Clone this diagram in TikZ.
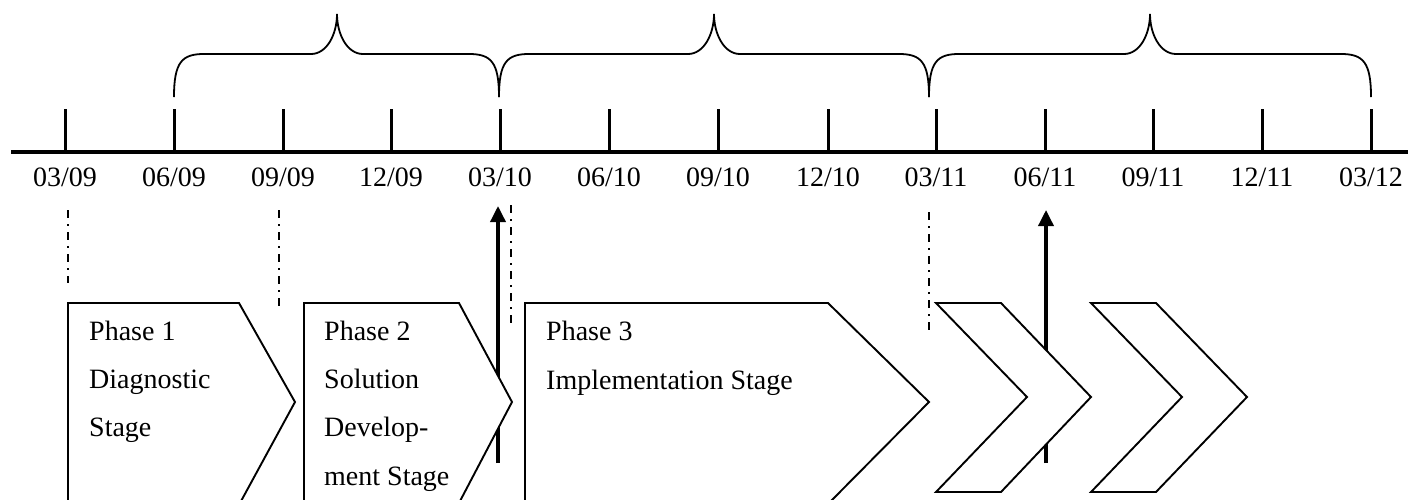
\documentclass[tikz,border=0pt]{standalone}
\usepackage{fontspec}
\setmainfont{Liberation Serif}
\usetikzlibrary{arrows.meta}
\newcommand\tlbrace[3]{%
  \draw[bracestyle] (#1,97) .. controls (#1,62) and (#1+8,54) .. (#1+30,54)
    -- (#2-26,54) .. controls (#2-10,54) and (#2,34) .. (#2,14)
    .. controls (#2,34) and (#2+10,54) .. (#2+26,54)
    -- (#3-30,54) .. controls (#3-8,54) and (#3,62) .. (#3,97);}
\tikzset{
  axisline/.style={line width=3.5pt},
  tickmark/.style={line width=3pt},
  bracestyle/.style={line width=1.8pt},
  dashdot/.style={line width=2pt, dash pattern=on 8pt off 6pt on 2pt off 6pt},
  stageshape/.style={line width=1.9pt, fill=white, line join=miter},
  uparrow/.style={line width=3.5pt, -{Triangle[length=16pt,width=15pt]}},
  datelbl/.style={font=\fontsize{28}{32}\selectfont, anchor=base, inner sep=0pt},
  txt/.style={font=\fontsize{28}{32}\selectfont, anchor=base west, inner sep=0pt}
}
\begin{document}
\begin{tikzpicture}[x=1pt,y=-1pt]
\useasboundingbox (0,0) rectangle (1416,499);
% axis
\coordinate (axL) at (11,152);
\coordinate (axR) at (1408,152);
\draw[axisline] (axL) -- (axR);
\foreach \x/\l [count=\i] in {65/{03/09},174/{06/09},283/{09/09},391/{12/09},500/{03/10},609/{06/10},718/{09/10},828/{12/10},936/{03/11},1045/{06/11},1153/{09/11},1262/{12/11},1371/{03/12}}{
  \coordinate (t\i) at (\x,109);
  \coordinate (b\i) at (\x,153);
  \draw[tickmark] (t\i) -- (b\i);
  \node[datelbl] (d\i) at (\x,186) {\l};
}
% braces
\tlbrace{174}{337}{499}
\tlbrace{499}{714}{929}
\tlbrace{929}{1150}{1371}
% dash-dot guides
\coordinate (g1a) at (68,210);  \coordinate (g1b) at (68,283);
\coordinate (g2a) at (279,210); \coordinate (g2b) at (279,306);
\coordinate (g3a) at (511,205); \coordinate (g3b) at (511,323);
\coordinate (g4a) at (929,212); \coordinate (g4b) at (929,330);
\draw[dashdot] (g1a) -- (g1b);
\draw[dashdot] (g2a) -- (g2b);
\draw[dashdot] (g3a) -- (g3b);
\draw[dashdot] (g4a) -- (g4b);
% arrows
\coordinate (a1s) at (498,463); \coordinate (a1e) at (498,206);
\coordinate (a2s) at (1046,463); \coordinate (a2e) at (1046,210);
\draw[uparrow] (a1s) -- (a1e);
\draw[uparrow] (a2s) -- (a2e);
% stage shapes
\draw[stageshape] (68,503) -- (68,303) -- (239,303) -- (295,402) -- (240,503);
\draw[stageshape] (304,503) -- (304,303) -- (459,303) -- (512,402) -- (459,503);
\draw[stageshape] (525,503) -- (525,303) -- (828,303) -- (929,402) -- (829,503);
\draw[stageshape] (936,303) -- (1001,303) -- (1091,397) -- (1001,492) -- (936,492) -- (1027,397) -- cycle;
\draw[stageshape] (1091,303) -- (1156,303) -- (1247,397) -- (1156,492) -- (1091,492) -- (1182,397) -- cycle;
% texts
\node[txt] (p1a) at (89,340) {Phase 1};
\node[txt] (p1b) at (89,388) {Diagnostic};
\node[txt] (p1c) at (89,436) {Stage};
\node[txt] (p2a) at (324,340) {Phase 2};
\node[txt] (p2b) at (324,388) {Solution};
\node[txt] (p2c) at (324,436) {Develop-};
\node[txt] (p2d) at (324,485) {ment Stage};
\node[txt] (p3a) at (546,340) {Phase 3};
\node[txt] (p3b) at (546,389) {Implementation Stage};
\end{tikzpicture}
\end{document}
